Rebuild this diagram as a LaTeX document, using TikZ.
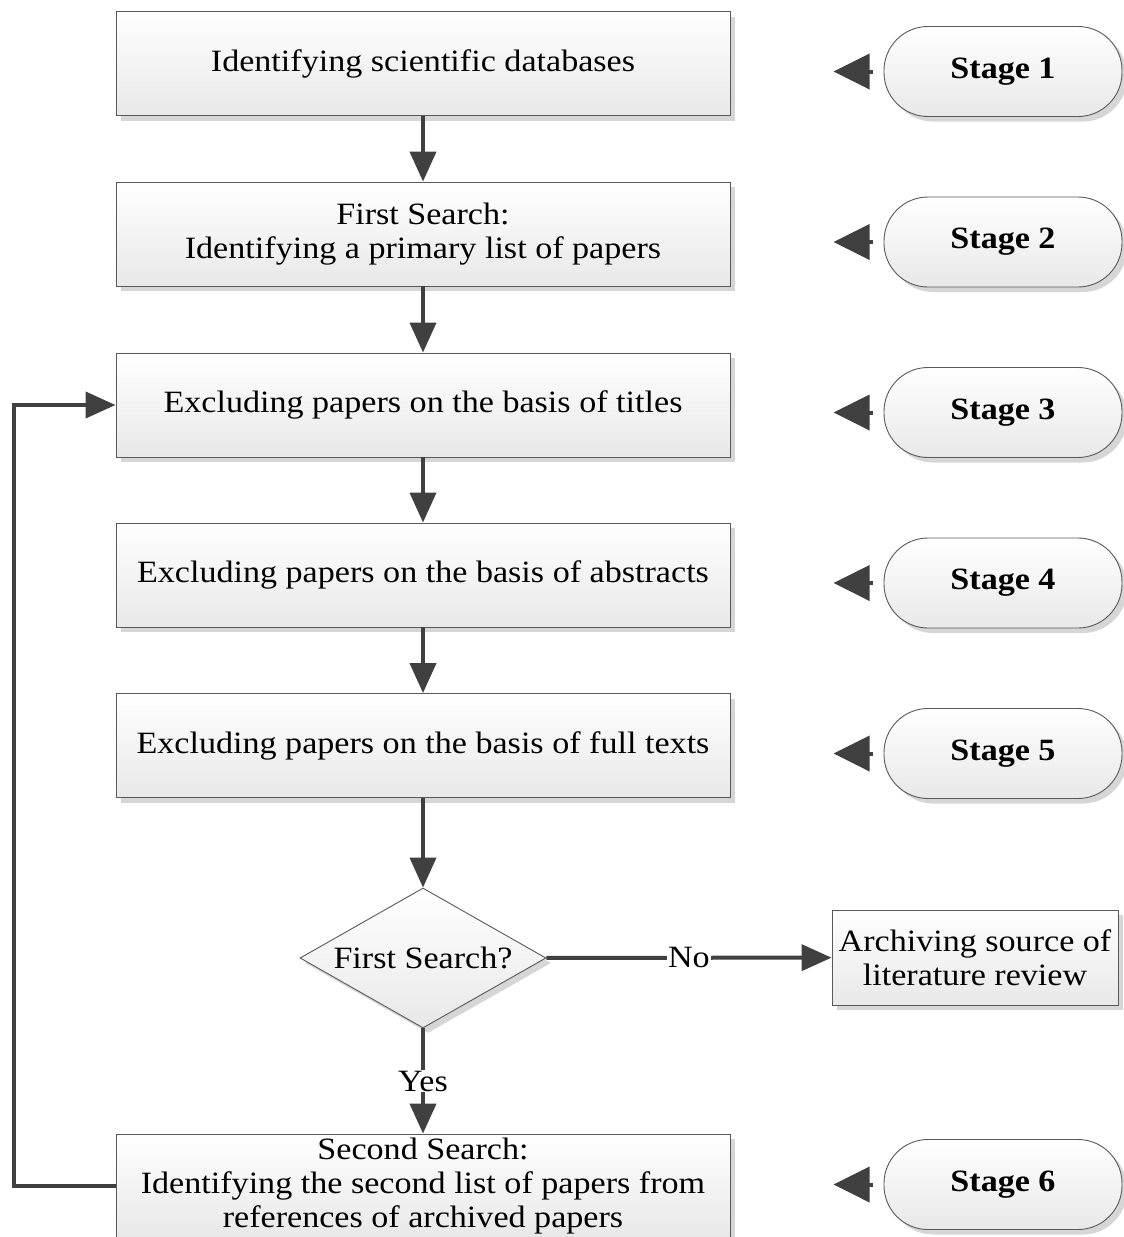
\documentclass[tikz,border=0pt]{standalone}
\usepackage{fontspec}
\setmainfont[FakeStretch=1.1]{Liberation Serif}
\usetikzlibrary{arrows.meta,shapes.geometric,shadows}
\definecolor{linec}{HTML}{404040}
\begin{document}
\begin{tikzpicture}[x=1pt,y=-1pt,
  font=\fontsize{31}{34}\selectfont,
  lc/.style={draw=linec, line width=4pt},
  arr/.style={lc,-{Triangle[length=30pt,width=26pt]}},
  stagearr/.style={lc,-{Triangle[length=36pt,width=35pt]}},
  shade/.style={top color=white, bottom color=black!9},
  shad/.style={drop shadow={shadow xshift=5pt,shadow yshift=-5pt,fill=black!16,opacity=1}},
  box/.style={draw=black!65, line width=0.9pt, shade, shad, minimum width=614pt, minimum height=104pt, align=center, inner sep=0pt},
  pill/.style={draw=black!65, line width=0.9pt, shade, shad, rounded corners=44pt, minimum width=238pt, minimum height=90pt, font=\fontsize{31}{34}\selectfont\bfseries},
  dia/.style={draw=black!65, line width=0.9pt, shade, shad, diamond, aspect=1.757, minimum width=246pt, minimum height=140pt, inner sep=0pt},
  lab/.style={fill=white, inner sep=1pt}
]
\useasboundingbox (0,0) rectangle (1124,1237);
\clip (0,0) rectangle (1124,1237);

\node[box] (b1) at (423,63.5) {Identifying scientific databases};
\node[box] (b2) at (423,234) {First Search:\\Identifying a primary list of papers};
\node[box] (b3) at (423,405) {Excluding papers on the basis of titles};
\node[box] (b4) at (423,575) {Excluding papers on the basis of abstracts};
\node[box] (b5) at (423,745.5) {Excluding papers on the basis of full texts};
\node[dia] (d) at (423,958) {First Search?};
\node[box, minimum width=286pt, minimum height=95pt] (ar) at (975,957.5) {Archiving source of\\literature review};
\node[box] (b6) at (423,1186) {Second Search:\\Identifying the second list of papers from\\references of archived papers};

\node[pill] (s1) at (1003,71.5) {Stage 1};
\node[pill] (s2) at (1003,242) {Stage 2};
\node[pill] (s3) at (1003,412.5) {Stage 3};
\node[pill] (s4) at (1003,583) {Stage 4};
\node[pill] (s5) at (1003,753.5) {Stage 5};
\node[pill] (s6) at (1003,1184.5) {Stage 6};

\foreach \s in {s1,s2,s3,s4,s5,s6}
  \draw[stagearr] ([xshift=-11pt]\s.west) -- ([xshift=-50pt]\s.west);

\draw[arr] (b1) -- (b2);
\draw[arr] (b2) -- (b3);
\draw[arr] (b3) -- (b4);
\draw[arr] (b4) -- (b5);
\draw[arr] (b5) -- (d);
\draw[arr] (d) -- node[lab] {No} (ar);
\draw[arr] (d) -- node[lab, pos=0.5] {Yes} (b6);
\draw[arr] (b6.west) -- ++(-102,0) |- (b3.west);
\end{tikzpicture}
\end{document}
